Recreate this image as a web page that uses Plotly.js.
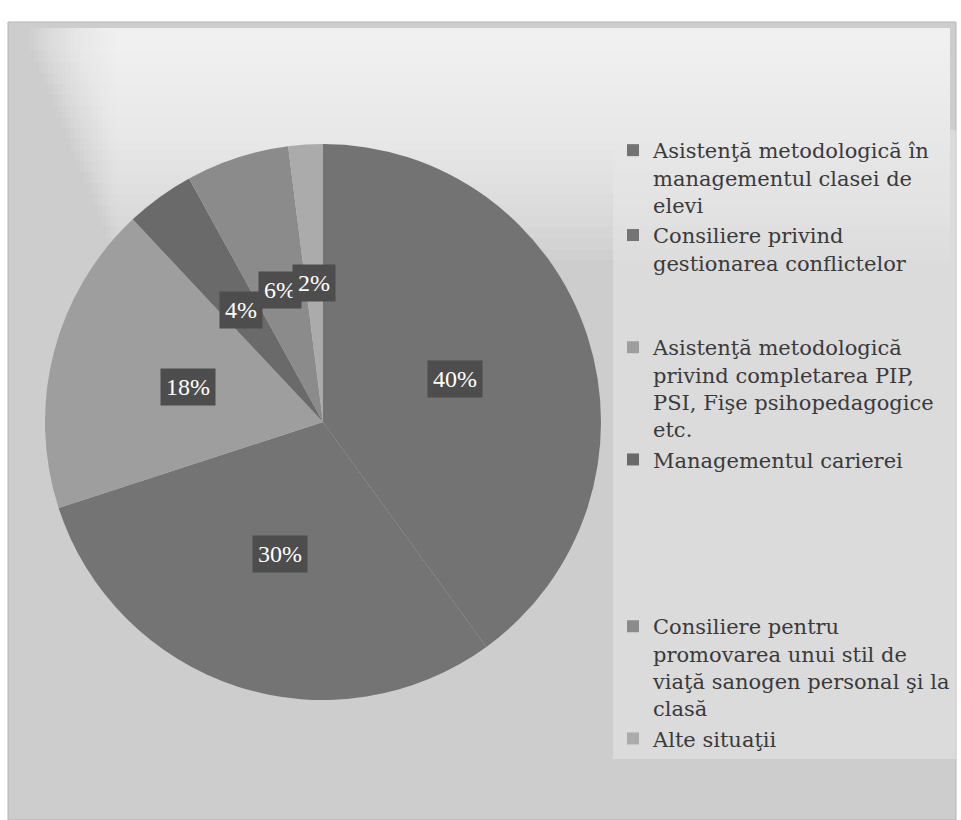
<!DOCTYPE html>
<html><head><meta charset="utf-8">
<script src="https://cdn.plot.ly/plotly-3.0.1.min.js"></script>
<style>html,body{margin:0;padding:0;background:#fff}</style>
</head><body><div id="chart" style="width:961px;height:820px"></div>
<script>
// ---- data ----
const categories = [
  "Asistenţă metodologică în<br>managementul clasei de<br>elevi",
  "Consiliere privind<br>gestionarea conflictelor",
  "Asistenţă metodologică<br>privind completarea PIP,<br>PSI, Fişe psihopedagogice<br>etc.",
  "Managementul carierei",
  "Consiliere pentru<br>promovarea unui stil de<br>viaţă sanogen personal şi la<br>clasă",
  "Alte situaţii"
];
const values = [40, 30, 18, 4, 6, 2];

// ---- styling ----
const sliceColors = ["#737373", "#747474", "#9e9e9e", "#6a6a6a", "#8b8b8b", "#ababab"];
const legendSpacer = [0, 2, 0, 5, 0, 0];   // blank lines after each legend entry
const W = 961, H = 820;
const cx = 323, cy = 422, R = 278;        // pie centre/radius in px
const labelRadius = 0.5;

const legendLabels = categories.map((c, i) => c + "<br>&nbsp;".repeat(legendSpacer[i]));

const total = values.reduce((a, b) => a + b, 0);
let cum = 0;
const annotations = values.map((v, i) => {
  const mid = (cum + v / 2) / total; cum += v;
  const th = 2 * Math.PI * mid;
  const px = cx + labelRadius * R * Math.sin(th);
  const py = cy - labelRadius * R * Math.cos(th);
  return {
    xref: "paper", yref: "paper", x: px / W, y: 1 - py / H,
    xanchor: "center", yanchor: "middle",
    text: Math.round(v / total * 100) + "%", showarrow: false,
    font: {family: "Liberation Serif, Times New Roman, serif", size: 24, color: "#ffffff"},
    bgcolor: "#4d4d4d", borderpad: 5
  };
});

// background decoration
const shapes = [
  {type: "rect", xref: "paper", yref: "paper", x0: 8 / W, x1: 956 / W, y0: 0, y1: 1 - 22 / H,
   fillcolor: "#cdcdcd", line: {color: "#b5b5b5", width: 1}, layer: "below"}
];
for (let k = 0; k < 20; k++) {
  shapes.push({type: "rect", xref: "paper", yref: "paper", x0: (30 + k * 4.5) / W, x1: 950 / W,
    y0: 1 - (40 + (k + 1) * 11) / H, y1: 1 - 28 / H,
    fillcolor: "#ffffff", opacity: 0.075, line: {width: 0}, layer: "below"});
}

const trace = {
  type: "pie", labels: legendLabels, values: values, sort: false,
  direction: "clockwise", rotation: 0,
  marker: {colors: sliceColors, line: {width: 0}},
  textinfo: "none", hoverinfo: "label+percent",
  domain: {x: [(cx - R) / W, (cx + R) / W], y: [(H - cy - R) / H, (H - cy + R) / H]}
};

const layout = {
  width: W, height: H, margin: {l: 0, r: 0, t: 0, b: 0},
  paper_bgcolor: "#ffffff", showlegend: true,
  legend: {x: 613 / W, xanchor: "left", y: 1 - 130 / H, yanchor: "top", valign: "top",
    bgcolor: "rgba(232,232,232,0.55)", font: {family: "DejaVu Serif, serif", size: 21, color: "#3a3a3a"},
    tracegroupgap: 0},
  annotations: annotations, shapes: shapes
};

Plotly.newPlot("chart", [trace], layout, {displayModeBar: false, staticPlot: true});
</script></body></html>
